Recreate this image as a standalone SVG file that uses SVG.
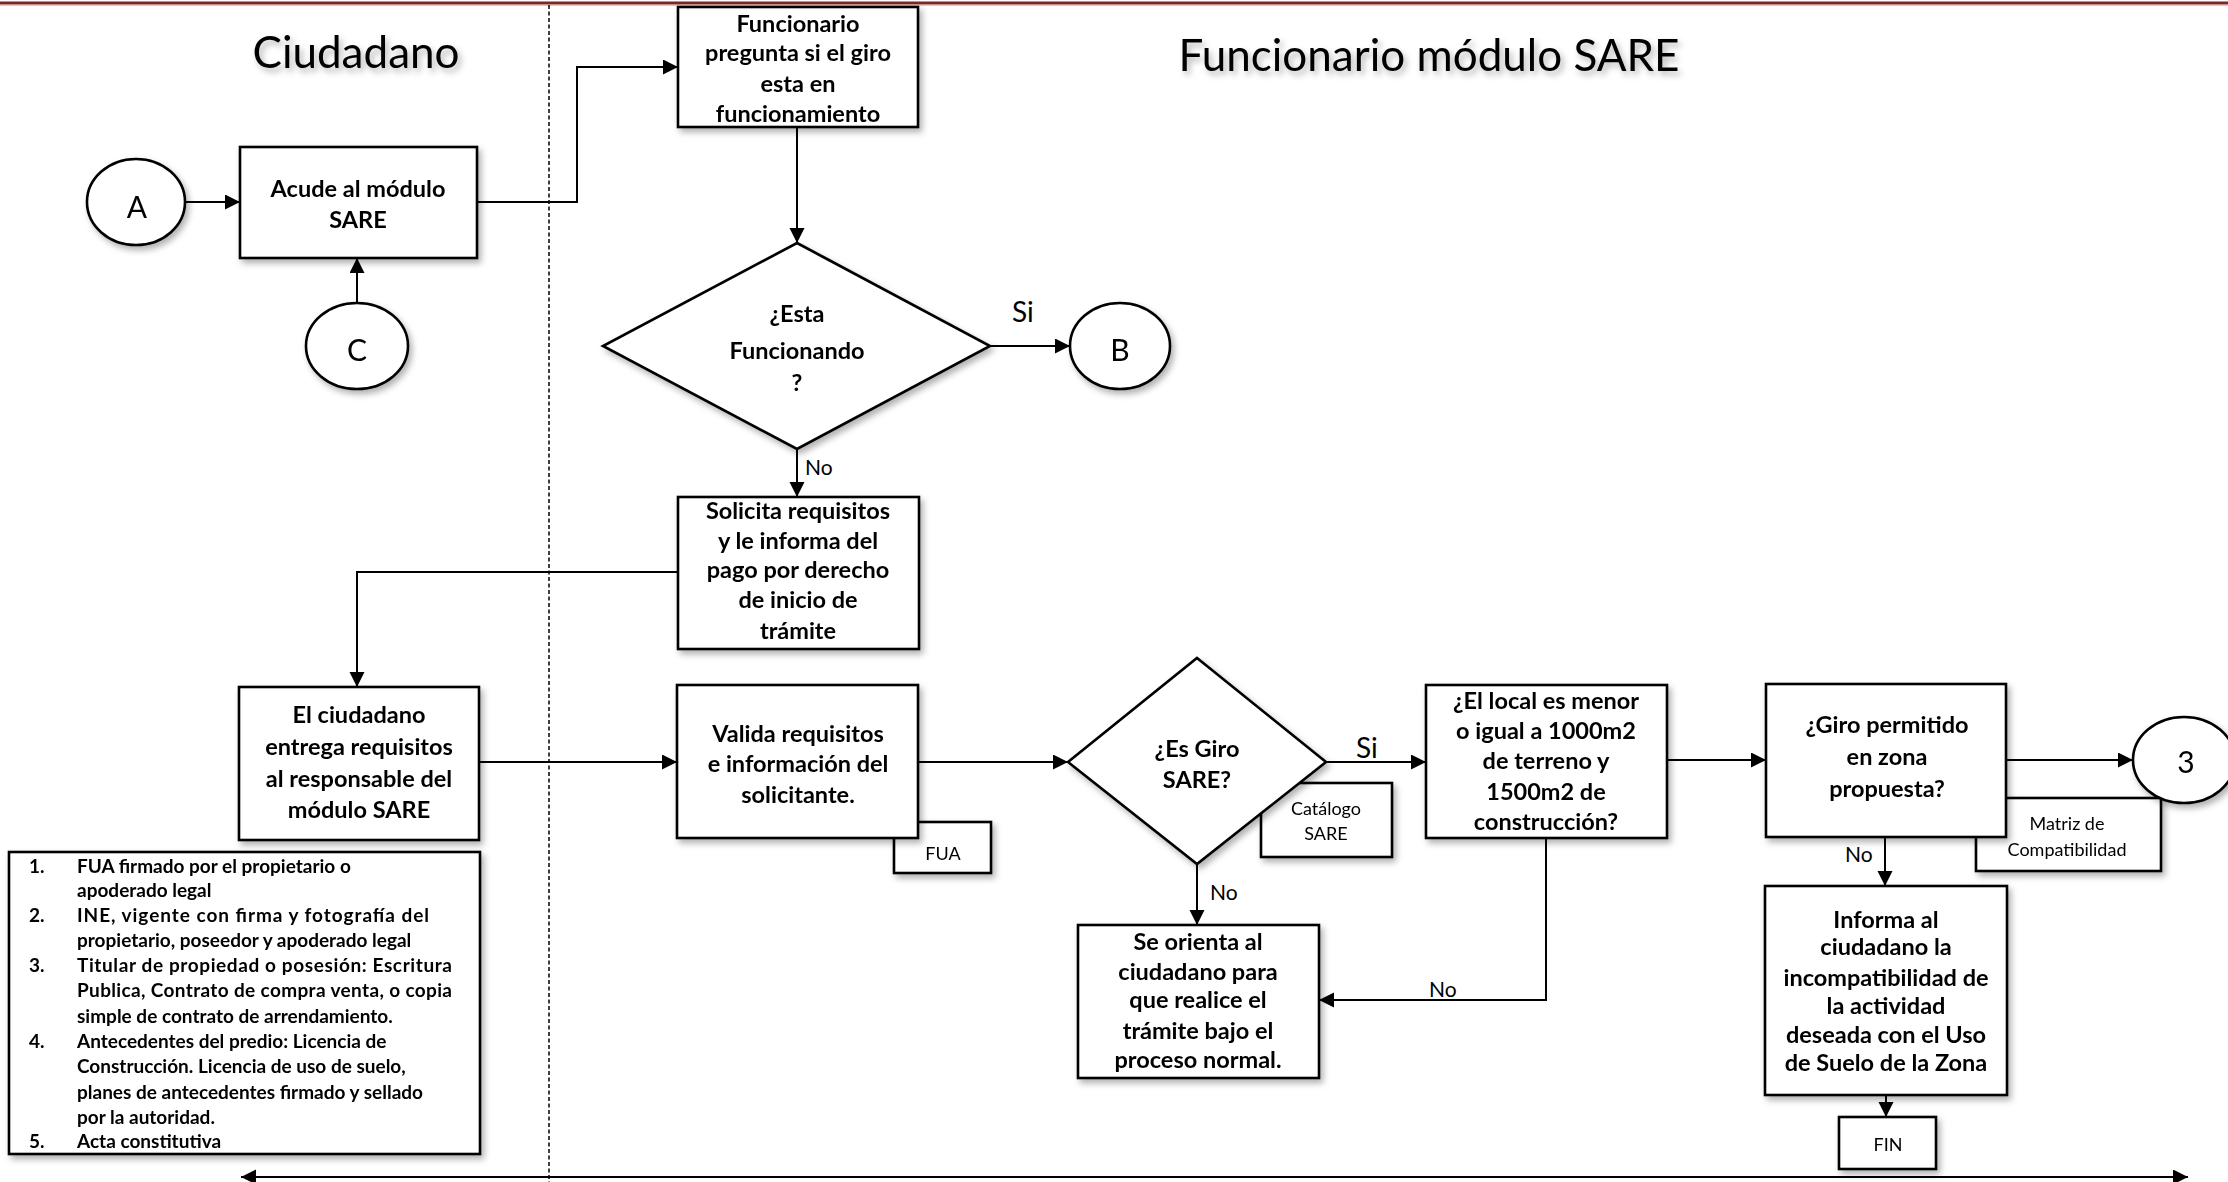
<svg xmlns="http://www.w3.org/2000/svg" width="2228" height="1182" viewBox="0 0 2228 1182">
<style>
.bx{fill:#fff;stroke:#000;stroke-width:2.6}
.t{font-family:Lato,"Liberation Sans",sans-serif;font-weight:bold;font-size:23.5px;fill:#000;text-anchor:middle}
.r{font-family:Lato,"Liberation Sans",sans-serif;font-size:18px;fill:#000;text-anchor:middle}
.lbl{font-family:Lato,"Liberation Sans",sans-serif;font-size:21px;fill:#000}
.si{font-family:Lato,"Liberation Sans",sans-serif;font-size:28px;fill:#000}
.big{font-family:Lato,"Liberation Sans",sans-serif;font-size:30px;fill:#000;text-anchor:middle}
.ttl{font-family:Lato,"Liberation Sans",sans-serif;font-size:44px;fill:#000;text-anchor:middle}
.lg{font-family:Lato,"Liberation Sans",sans-serif;font-weight:bold;font-size:19px;fill:#000}
.c{fill:none;stroke:#000;stroke-width:2}
</style>
<defs>
<filter id="sh" x="-10%" y="-10%" width="130%" height="130%">
<feDropShadow dx="3" dy="4" stdDeviation="3" flood-color="#000" flood-opacity="0.3"/>
</filter>
<marker id="ar" markerUnits="userSpaceOnUse" markerWidth="16" markerHeight="16" refX="15" refY="7.5" orient="auto-start-reverse">
<path d="M0,0 L15,7.5 L0,15 z" fill="#000"/>
</marker>
</defs>
<rect width="2228" height="1182" fill="#fff"/>
<rect x="0" y="1.5" width="2228" height="2.5" fill="#7e2626"/>
<rect x="0" y="4" width="2228" height="1.5" fill="#c98e8e"/>
<line x1="549" y1="5" x2="549" y2="1182" stroke="#000" stroke-width="1.5" stroke-dasharray="4,2.5"/>

<g id="titles" filter="url(#sh)">
<text class="ttl" x="356" y="68">Ciudadano</text>
<text class="ttl" x="1429" y="71">Funcionario módulo SARE</text>
</g>

<g id="connectors">
<path class="c" d="M185,202 H240" marker-end="url(#ar)"/>
<path class="c" d="M477,202 H577 V67 H678" marker-end="url(#ar)"/>
<path class="c" d="M357,303 V258" marker-end="url(#ar)"/>
<path class="c" d="M797,127 V243" marker-end="url(#ar)"/>
<path class="c" d="M990,346 H1070" marker-end="url(#ar)"/>
<path class="c" d="M797,449 V497" marker-end="url(#ar)"/>
<path class="c" d="M678,572 H357 V687" marker-end="url(#ar)"/>
<path class="c" d="M479,762 H677" marker-end="url(#ar)"/>
<path class="c" d="M918,762 H1068" marker-end="url(#ar)"/>
<path class="c" d="M1326,762 H1426" marker-end="url(#ar)"/>
<path class="c" d="M1197,864 V925" marker-end="url(#ar)"/>
<path class="c" d="M1546,838 V1000 H1319" marker-end="url(#ar)"/>
<path class="c" d="M1667,760 H1766" marker-end="url(#ar)"/>
<path class="c" d="M2006,760 H2133" marker-end="url(#ar)"/>
<path class="c" d="M1885,837 V886" marker-end="url(#ar)"/>
<path class="c" d="M1886,1095 V1117" marker-end="url(#ar)"/>
<path class="c" d="M241,1177 H2188" stroke-width="3" marker-start="url(#ar)" marker-end="url(#ar)"/>
<text class="si" x="1012" y="322">Si</text>
<text class="lbl" x="805" y="475">No</text>
<text class="si" x="1356" y="758">Si</text>
<text class="lbl" x="1210" y="900">No</text>
<text class="lbl" x="1429" y="997">No</text>
<text class="lbl" x="1845" y="862">No</text>
</g>

<g id="nA" filter="url(#sh)">
<ellipse class="bx" cx="136" cy="202" rx="49" ry="43"/>
<text class="big" x="137" y="218">A</text>
</g>
<g id="nC" filter="url(#sh)">
<ellipse class="bx" cx="357" cy="346" rx="51" ry="43"/>
<text class="big" x="357" y="361">C</text>
</g>
<g id="nB" filter="url(#sh)">
<ellipse class="bx" cx="1120" cy="346" rx="50" ry="43"/>
<text class="big" x="1120" y="361">B</text>
</g>

<g id="nAcude" filter="url(#sh)">
<rect class="bx" x="240" y="147" width="237" height="111"/>
<text class="t"><tspan x="358" y="197">Acude al módulo</tspan><tspan x="358" y="228">SARE</tspan></text>
</g>

<g id="nFuncionario" filter="url(#sh)">
<rect class="bx" x="678" y="7" width="240" height="120"/>
<text class="t"><tspan x="798" y="32">Funcionario</tspan><tspan x="798" y="61">pregunta si el giro</tspan><tspan x="798" y="92">esta en</tspan><tspan x="798" y="122">funcionamiento</tspan></text>
</g>

<g id="nEsta" filter="url(#sh)">
<polygon class="bx" points="797,243 990,346 797,449 603,346"/>
<text class="t"><tspan x="797" y="322">¿Esta</tspan><tspan x="797" y="359">Funcionando</tspan><tspan x="797" y="391">?</tspan></text>
</g>

<g id="nSolicita" filter="url(#sh)">
<rect class="bx" x="678" y="497" width="241" height="152"/>
<text class="t"><tspan x="798" y="519">Solicita requisitos</tspan><tspan x="798" y="549">y le informa del</tspan><tspan x="798" y="578">pago por derecho</tspan><tspan x="798" y="608">de inicio de</tspan><tspan x="798" y="639">trámite</tspan></text>
</g>

<g id="nEntrega" filter="url(#sh)">
<rect class="bx" x="239" y="687" width="240" height="153"/>
<text class="t"><tspan x="359" y="723">El ciudadano</tspan><tspan x="359" y="755">entrega requisitos</tspan><tspan x="359" y="787">al responsable del</tspan><tspan x="359" y="818">módulo SARE</tspan></text>
</g>

<g id="nLista" filter="url(#sh)">
<rect class="bx" x="9" y="852" width="471" height="302"/>
<text class="lg">
<tspan x="29" y="873">1.</tspan><tspan x="77" y="873">FUA firmado por el propietario o</tspan>
<tspan x="77" y="897">apoderado legal</tspan>
<tspan x="29" y="922">2.</tspan><tspan x="77" y="922" textLength="352" lengthAdjust="spacing">INE, vigente con firma y fotografía del</tspan>
<tspan x="77" y="947">propietario, poseedor y apoderado legal</tspan>
<tspan x="29" y="972">3.</tspan><tspan x="77" y="972" textLength="375" lengthAdjust="spacing">Titular de propiedad o posesión: Escritura</tspan>
<tspan x="77" y="997" textLength="375" lengthAdjust="spacing">Publica, Contrato de compra venta, o copia</tspan>
<tspan x="77" y="1023">simple de contrato de arrendamiento.</tspan>
<tspan x="29" y="1048">4.</tspan><tspan x="77" y="1048">Antecedentes del predio: Licencia de</tspan>
<tspan x="77" y="1073">Construcción. Licencia de uso de suelo,</tspan>
<tspan x="77" y="1099">planes de antecedentes firmado y sellado</tspan>
<tspan x="77" y="1124">por la autoridad.</tspan>
<tspan x="29" y="1148">5.</tspan><tspan x="77" y="1148">Acta constitutiva</tspan>
</text>
</g>

<g id="nFUA" filter="url(#sh)">
<rect class="bx" x="894" y="822" width="97" height="51"/>
<text class="r" x="943" y="860">FUA</text>
</g>
<g id="nValida" filter="url(#sh)">
<rect class="bx" x="677" y="685" width="241" height="153"/>
<text class="t"><tspan x="798" y="742">Valida requisitos</tspan><tspan x="798" y="772">e información del</tspan><tspan x="798" y="803">solicitante.</tspan></text>
</g>

<g id="nCatalogo" filter="url(#sh)">
<rect class="bx" x="1261" y="783" width="131" height="74"/>
<text class="r"><tspan x="1326" y="815">Catálogo</tspan><tspan x="1326" y="840">SARE</tspan></text>
</g>
<g id="nEsGiro" filter="url(#sh)">
<polygon class="bx" points="1197,658 1326,762 1197,864 1068,762"/>
<text class="t"><tspan x="1197" y="757">¿Es Giro</tspan><tspan x="1197" y="788">SARE?</tspan></text>
</g>

<g id="nLocal" filter="url(#sh)">
<rect class="bx" x="1426" y="685" width="241" height="153"/>
<text class="t"><tspan x="1546" y="709">¿El local es menor</tspan><tspan x="1546" y="739">o igual a 1000m2</tspan><tspan x="1546" y="769">de terreno y</tspan><tspan x="1546" y="800">1500m2 de</tspan><tspan x="1546" y="830">construcción?</tspan></text>
</g>

<g id="nOrienta" filter="url(#sh)">
<rect class="bx" x="1078" y="925" width="241" height="153"/>
<text class="t"><tspan x="1198" y="950">Se orienta al</tspan><tspan x="1198" y="980">ciudadano para</tspan><tspan x="1198" y="1008">que realice el</tspan><tspan x="1198" y="1039">trámite bajo el</tspan><tspan x="1198" y="1068">proceso normal.</tspan></text>
</g>

<g id="nMatriz" filter="url(#sh)">
<rect class="bx" x="1976" y="798" width="185" height="73"/>
<text class="r"><tspan x="2067" y="830">Matriz de</tspan><tspan x="2067" y="856">Compatibilidad</tspan></text>
</g>
<g id="nGiro" filter="url(#sh)">
<rect class="bx" x="1766" y="684" width="240" height="153"/>
<text class="t"><tspan x="1887" y="733">¿Giro permitido</tspan><tspan x="1887" y="765">en zona</tspan><tspan x="1887" y="797">propuesta?</tspan></text>
</g>
<g id="n3" filter="url(#sh)">
<ellipse class="bx" cx="2184" cy="760" rx="51" ry="43"/>
<text class="big" x="2186" y="773" font-size="34">3</text>
</g>

<g id="nInforma" filter="url(#sh)">
<rect class="bx" x="1765" y="886" width="242" height="209"/>
<text class="t"><tspan x="1886" y="928">Informa al</tspan><tspan x="1886" y="955">ciudadano la</tspan><tspan x="1886" y="986">incompatibilidad de</tspan><tspan x="1886" y="1014">la actividad</tspan><tspan x="1886" y="1043">deseada con el Uso</tspan><tspan x="1886" y="1071">de Suelo de la Zona</tspan></text>
</g>

<g id="nFIN" filter="url(#sh)">
<rect class="bx" x="1839" y="1117" width="97" height="52"/>
<text class="r" x="1888" y="1151">FIN</text>
</g>
</svg>
